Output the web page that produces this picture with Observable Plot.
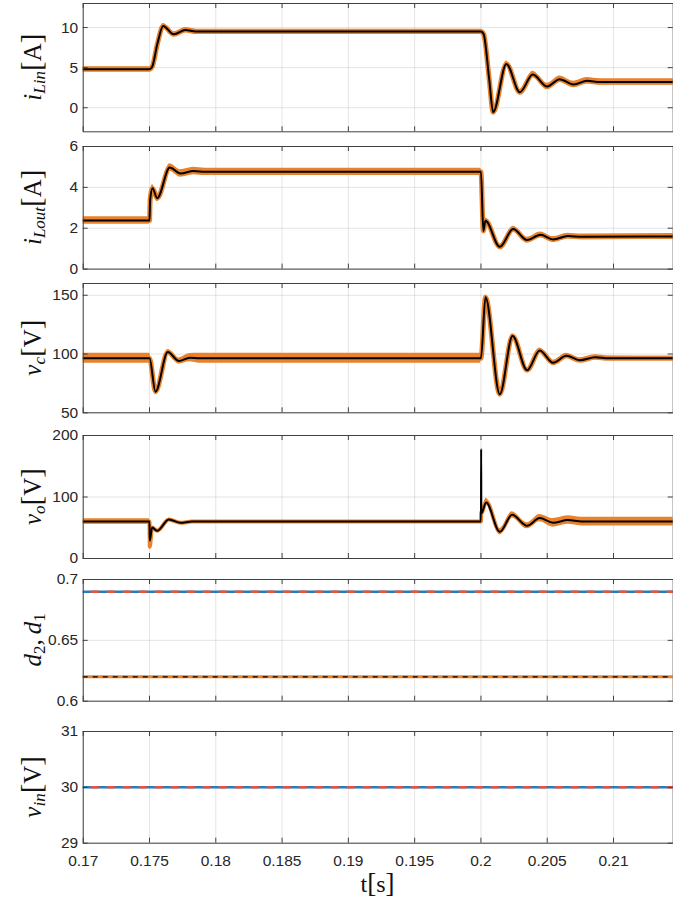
<!DOCTYPE html>
<html>
<head>
<meta charset="utf-8">
<script src="https://cdn.jsdelivr.net/npm/d3@7"></script>
<script src="https://cdn.jsdelivr.net/npm/@observablehq/plot@0.6"></script>
<style>
  html, body { margin: 0; padding: 0; background: #fff; }
  #chart { position: relative; width: 673px; height: 908px; overflow: hidden; }
  #xlabel { position: absolute; left: 0; width: 755px; text-align: center; top: 868px;
    font-family: "Liberation Serif", "Times New Roman", serif; font-size: 24px; color: #111; }
  #xlabel .br { font-size: 27px; }
</style>
</head>
<body>
<div id="chart"><div id="xlabel">t<span class="br">[</span>s<span class="br">]</span></div></div>
<script>
// ---------- shared axis data ----------
const xTicks = [0.17, 0.175, 0.18, 0.185, 0.19, 0.195, 0.2, 0.205, 0.21];
const xDomain = [0.17, 0.2145];

// ---------- panel 1: i_Lin [A] ----------
const t1 = [0.17, 0.175, 0.1752, 0.1756, 0.17603, 0.17683, 0.17771, 0.1785, 0.2, 0.2002, 0.20062, 0.20092, 0.20192, 0.20293, 0.20391, 0.20499, 0.20594, 0.2070, 0.2080, 0.2090, 0.2145];
const iLin = [4.8, 4.8, 5.1, 8.0, 10.2, 9.15, 9.7, 9.5, 9.5, 9.2, 3.6, -0.55, 5.47, 1.94, 4.14, 2.65, 3.56, 2.9, 3.36, 3.2, 3.2];
const iLinBand = [0.3, 0.3, 0.3, 0.3, 0.3, 0.3, 0.3, 0.3, 0.3, 0.3, 0.3, 0.3, 0.35, 0.35, 0.4, 0.4, 0.4, 0.4, 0.4, 0.4, 0.4];
const y1Ticks = [0, 5, 10];

// ---------- panel 2: i_Lout [A] ----------
const t2 = [0.17, 0.175, 0.17505, 0.17523, 0.17558, 0.17653, 0.17734, 0.17832, 0.1792, 0.2, 0.20018, 0.20034, 0.20142, 0.20243, 0.20348, 0.20449, 0.20544, 0.20655, 0.2076, 0.2145];
const iLout = [2.38, 2.38, 3.4, 3.96, 3.47, 4.97, 4.68, 4.8, 4.76, 4.76, 1.87, 2.36, 1.09, 1.96, 1.42, 1.68, 1.45, 1.62, 1.58, 1.6];
const iLoutBand = [0.18, 0.18, 0.18, 0.18, 0.18, 0.18, 0.18, 0.18, 0.18, 0.18, 0.14, 0.14, 0.14, 0.14, 0.14, 0.14, 0.14, 0.14, 0.14, 0.14];
const y2Ticks = [0, 2, 4, 6];

// ---------- panel 3: v_c [V] ----------
const t3 = [0.17, 0.175, 0.17545, 0.17638, 0.17721, 0.17804, 0.1788, 0.2, 0.20034, 0.20142, 0.20238, 0.20348, 0.20443, 0.20544, 0.20645, 0.20745, 0.20863, 0.2096, 0.2145];
const vc = [96.4, 96.4, 68, 101.7, 94.1, 96.9, 96.4, 96.4, 148.3, 65.8, 115.3, 86.2, 103.1, 92.6, 98.6, 94.7, 97.3, 96.4, 96.4];
const vcBand = [4.2, 4.2, 2.2, 2.2, 2.5, 3.5, 4.2, 4.2, 2.0, 2.0, 2.0, 2.0, 2.0, 2.0, 2.0, 2.0, 2.0, 2.0, 1.8];
const y3Ticks = [50, 100, 150];

// ---------- panel 4: v_o [V] ----------
const t4 = [0.17, 0.175, 0.17502, 0.1752, 0.17558, 0.17646, 0.17734, 0.1782, 0.2, 0.200015, 0.20003, 0.20039, 0.20142, 0.20235, 0.20348, 0.20443, 0.20544, 0.20655, 0.2076, 0.2145];
const vo = [60, 60, 29, 50.4, 45, 63.4, 58, 60, 60, 178, 73, 91, 43.4, 71, 53.2, 65.7, 58, 62.5, 60, 60];
const voOrange = [60, 60, 19, 50.4, 45, 63.4, 58, 60, 60, 75, 73, 93, 43.4, 71, 53.2, 65.7, 58, 62.5, 60, 60];
const voBand = [4.5, 4.5, 3, 2, 2, 2, 2, 1.5, 1.5, 5, 5, 5, 5, 5, 5, 6, 7, 7, 7, 7];
const y4Ticks = [0, 100, 200];

// ---------- panel 5: d2, d1 ----------
const dutyD1 = [0.69];
const dutyD2 = [0.62];
const y5Ticks = [0.6, 0.65, 0.7];

// ---------- panel 6: v_in [V] ----------
const vinValue = [30];
const y6Ticks = [29, 30, 31];

// ---------- styling ----------
const ORANGE = "#E9822B", BLUE = "#2B7BBA", RED = "#F0503A", FRAME = "#404040", TXT = "#262626";
const W = 673, ML = 82.7, MR = 0.3, PW = W - ML - MR;
const chart = document.getElementById("chart");

function series(t, v, hw) { return t.map((tt, i) => ({t: tt, v: v[i], hw: hw ? hw[i] : 0})); }

function wavyMarks(data, orangeData, orangeWidth) {
  return [
    Plot.areaY(orangeData, {x: "t", y1: d => d.v - d.hw, y2: d => d.v + d.hw, fill: ORANGE, curve: "monotone-x", clip: true}),
    Plot.line(orangeData, {x: "t", y: "v", stroke: ORANGE, strokeWidth: orangeWidth, curve: "monotone-x", clip: true}),
    Plot.line(data, {x: "t", y: "v", stroke: "#000", strokeWidth: 2, curve: "monotone-x", clip: true})
  ];
}

function panel({top, h, yDomain, yTicks, marks, last, label}) {
  const mt = 10, mb = last ? 40 : 10;
  const svg = Plot.plot({
    width: W, height: h + mt + mb,
    marginLeft: ML, marginRight: MR, marginTop: mt, marginBottom: mb,
    style: {background: "transparent", overflow: "visible", fontFamily: "'Liberation Sans', Arial, Helvetica, sans-serif"},
    x: {domain: xDomain, axis: null},
    y: {domain: yDomain, axis: null},
    marks: [
      Plot.gridX(xTicks, {stroke: "#000", strokeOpacity: 0.11, strokeWidth: 1}),
      Plot.gridY(yTicks, {stroke: "#000", strokeOpacity: 0.11, strokeWidth: 1}),
      ...marks,
      Plot.ruleX(xTicks, {insetBottom: h - 5, stroke: FRAME}),
      Plot.ruleX(xTicks, {insetTop: h - 5, stroke: FRAME}),
      Plot.ruleY(yTicks, {insetRight: PW - 5, stroke: FRAME}),
      Plot.ruleY(yTicks, {insetLeft: PW - 5, stroke: FRAME}),
      Plot.axisY(yTicks, {tickSize: 0, tickPadding: 5, fontSize: 15.5, color: TXT, tickFormat: d => String(d), label: null}),
      ...(last ? [Plot.axisX(xTicks, {tickSize: 0, tickPadding: 12, fontSize: 15.5, color: TXT, tickFormat: d => String(d), label: null})] : []),
      Plot.frame({stroke: FRAME, strokeWidth: 1})
    ]
  });
  svg.style.position = "absolute";
  svg.style.left = "0px";
  svg.style.top = (top - mt) + "px";
  // rich y-axis label (italic variables with subscripts, upright brackets)
  const fs = 25, sub = 17, shift = 4;
  const txt = d3.select(svg).append("text")
    .attr("transform", `translate(41,${mt + h / 2}) rotate(-90)`)
    .attr("text-anchor", "middle")
    .attr("font-family", "'Liberation Serif', 'Times New Roman', serif")
    .attr("font-size", fs).attr("fill", "#111")
    .style("white-space", "pre");
  let lowered = false;
  for (const part of label) {
    const ts = txt.append("tspan").text(part.t);
    if (part.it) ts.attr("font-style", "italic");
    if (part.br) ts.attr("font-size", 29);
    if (part.sub) {
      ts.attr("font-size", sub);
      if (!lowered) { ts.attr("dy", shift); lowered = true; }
    } else if (lowered) {
      ts.attr("dy", -shift); lowered = false;
    }
  }
  chart.appendChild(svg);
}

const unitLabel = u => [{t: "[", br: true}, {t: u}, {t: "]", br: true}];

panel({top: 2.7, h: 128.3, yDomain: [-3, 13], yTicks: y1Ticks,
  marks: wavyMarks(series(t1, iLin), series(t1, iLin, iLinBand), 5),
  label: [{t: "i", it: true}, {t: "Lin", it: true, sub: true}, ...unitLabel("A")]});

panel({top: 145.7, h: 122.6, yDomain: [0, 6], yTicks: y2Ticks,
  marks: wavyMarks(series(t2, iLout), series(t2, iLout, iLoutBand), 5),
  label: [{t: "i", it: true}, {t: "Lout", it: true, sub: true}, ...unitLabel("A")]});

panel({top: 282.7, h: 129.3, yDomain: [50, 160], yTicks: y3Ticks,
  marks: wavyMarks(series(t3, vc), series(t3, vc, vcBand), 5),
  label: [{t: "v", it: true}, {t: "c", it: true, sub: true}, ...unitLabel("V")]});

panel({top: 434.7, h: 123, yDomain: [0, 200], yTicks: y4Ticks,
  marks: wavyMarks(series(t4, vo), series(t4, voOrange, voBand), 4),
  label: [{t: "v", it: true}, {t: "o", it: true, sub: true}, ...unitLabel("V")]});

panel({top: 579, h: 121.7, yDomain: [0.6, 0.7], yTicks: y5Ticks,
  marks: [
    Plot.ruleY(dutyD1, {stroke: BLUE, strokeWidth: 2.5}),
    Plot.ruleY(dutyD1, {stroke: RED, strokeWidth: 2.5, strokeDasharray: "8,8", strokeDashoffset: 8}),
    Plot.ruleY(dutyD2, {stroke: ORANGE, strokeWidth: 3}),
    Plot.ruleY(dutyD2, {stroke: "#000", strokeWidth: 1.3, strokeDasharray: "5,5"})
  ],
  label: [{t: "d", it: true}, {t: "2", sub: true}, {t: ",\u2009"}, {t: "d", it: true}, {t: "1", sub: true}]});

panel({top: 731, h: 111.7, yDomain: [29, 31], yTicks: y6Ticks, last: true,
  marks: [
    Plot.ruleY(vinValue, {stroke: BLUE, strokeWidth: 2.5}),
    Plot.ruleY(vinValue, {stroke: RED, strokeWidth: 2.5, strokeDasharray: "8,8", strokeDashoffset: 8})
  ],
  label: [{t: "v", it: true}, {t: "in", it: true, sub: true}, ...unitLabel("V")]});
</script>
</body>
</html>
